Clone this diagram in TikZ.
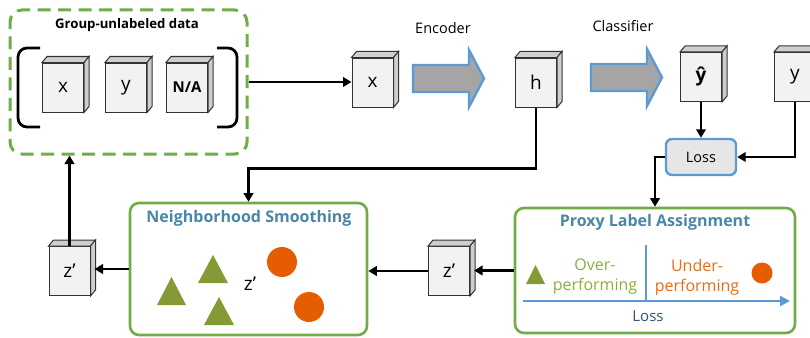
\documentclass[tikz,border=0pt]{standalone}
\usepackage{fontspec}
\setmainfont{Open Sans}
\usetikzlibrary{arrows.meta,calc}
\definecolor{grn}{HTML}{70AD47}
\definecolor{bluel}{HTML}{5B9BD5}
\definecolor{arrfill}{HTML}{A5A5A5}
\definecolor{ttl}{HTML}{4A86A8}
\definecolor{olive}{HTML}{849B35}
\definecolor{orng}{HTML}{E65C00}
\definecolor{overc}{HTML}{8BAE3D}
\definecolor{underc}{HTML}{EB6A12}
\definecolor{lossc}{HTML}{2F5377}
\definecolor{cubef}{HTML}{F2F2F2}
\definecolor{lossf}{HTML}{E7E6E6}
\newcommand\fs[1]{\fontsize{#1}{#1}\selectfont}
\newcommand\mycube[3]{%
  \node[cubebox] (#1) at (#2) {#3};
  \draw[cubeedge] (#1.north west) -- ++(5,-6) -- ([shift={(5,-6)}]#1.north east) -- (#1.north east) -- cycle;
  \draw[cubeedge] (#1.north east) -- ([shift={(5,-6)}]#1.north east) -- ([shift={(5,-6)}]#1.south east) -- (#1.south east) -- cycle;
}
\begin{document}
\begin{tikzpicture}[x=1pt,y=-1pt,
  cubebox/.style={draw=black!80, fill=cubef, minimum width=41pt, minimum height=49pt, inner sep=0pt, line width=1pt, font=\fs{19}},
  cubeedge/.style={draw=black!80, fill=cubef!85!black, line width=1pt},
  arr/.style={line width=2.6pt, -{Triangle[length=8.5pt,width=9.5pt]}},
  gbox/.style={draw=grn, line width=2.6pt, rounded corners=9pt, inner sep=0pt},
  bigarrow/.style={draw=bluel, fill=arrfill, line width=2.4pt, line join=miter},
  ttlfont/.style={font=\bfseries\fs{16}, text=ttl}
]
\useasboundingbox (0,0) rectangle (810,337);

% group-unlabeled data
\node[draw=grn, line width=3pt, dash pattern=on 13pt off 7.5pt, rounded corners=12pt, minimum width=237pt, minimum height=144pt, inner sep=0pt] (dbox) at (128.5,82) {};
\node[font=\bfseries\fs{13.2}] (dttl) at (127,25) {Group-unlabeled data};
\draw[line width=2.8pt, rounded corners=9pt] (40,48) -- (18,48) -- (18,127) -- (40,127);
\draw[line width=2.8pt, rounded corners=9pt] (217,48) -- (237,48) -- (237,127) -- (217,127);
\mycube{dx}{63,87.5}{x}
\mycube{dy}{126,87.5}{y}
\mycube{dna}{187,87.5}{\bfseries\fs{15}N/A}

% encoder
\mycube{xc}{372.5,82.5}{x}
\node[font=\fs{14.5}] (enc) at (443,28) {Encoder};
\draw[bigarrow] (413,65) -- (469,65) -- (469,50) -- (484,78.5) -- (469,107) -- (469,92) -- (413,92) -- cycle;
\mycube{hc}{536,82.5}{h}

% classifier
\node[font=\fs{14.5}] (cls) at (623,26) {Classifier};
\draw[bigarrow] (591,64) -- (647,64) -- (647,49) -- (662,77.5) -- (647,106) -- (647,91) -- (591,91) -- cycle;
\mycube{yhat}{701,77}{\bfseries ŷ}
\mycube{yr}{795,77}{y}

% loss
\node[draw=bluel, fill=lossf, line width=2.4pt, rounded corners=6pt, minimum width=70pt, minimum height=36pt, inner sep=0pt, font=\fs{14.5}] (loss) at (701,157) {Loss};

% neighborhood smoothing
\node[gbox, minimum width=237pt, minimum height=132pt] (nbox) at (248.5,269) {};
\node[ttlfont] (nttl) at (249,218) {Neighborhood Smoothing};
\fill[olive] (157,305) -- (186,305) -- (171.5,277) -- cycle;
\fill[olive] (198,283) -- (228,283) -- (213,255) -- cycle;
\fill[olive] (204,325) -- (234,325) -- (219,297) -- cycle;
\node[font=\fs{19}] (zlab) at (250,284) {z’};
\fill[orng] (282,262) circle (15);
\fill[orng] (309,307) circle (15);

% z' cubes
\mycube{zl}{69.5,271}{z’}
\mycube{zm}{449,271}{z’}

% proxy label assignment
\node[gbox, minimum width=280pt, minimum height=125pt] (pbox) at (655,270.5) {};
\node[ttlfont] (pttl) at (655,222) {Proxy Label Assignment};
\fill[olive] (526,284) -- (545,284) -- (535.5,265) -- cycle;
\fill[orng] (762,273) circle (10.5);
\node[font=\fs{16}, text=overc, align=center] (over) at (595,277) {Over-\\[4pt]performing};
\node[font=\fs{16}, text=underc, align=center] (under) at (697,277) {Under-\\[4pt]performing};
\coordinate (vt) at (646,245);
\coordinate (vb) at (646,301);
\coordinate (ha) at (523,301);
\coordinate (hb) at (790,301);
\draw[draw=bluel, line width=2.8pt] (vt) -- (vb);
\draw[draw=bluel, line width=2.8pt, -{Triangle[length=10pt,width=10pt]}] (ha) -- (hb);
\node[font=\fs{15}, text=lossc] (lossax) at (648,316) {Loss};

% connectors
\draw[arr] (dbox.east) -- (dbox.east -| xc.west);
\draw[arr] (hc.south) |- ($(nbox.north)+(0,-33)$) -- (nbox.north);
\draw[arr] (yhat.south) -- (loss.north);
\draw[arr] (yr.south) |- (loss.east);
\draw[arr] (loss.west) -| (pbox.north);
\draw[arr] (pbox.west) -- ([xshift=4pt]pbox.west -| zm.east);
\draw[arr] (zm.west) -- (zm.west -| nbox.east);
\draw[arr] (nbox.west) -- ([xshift=4pt]nbox.west -| zl.east);
\draw[arr] (zl.north) -- (zl.north |- dbox.south);
\end{tikzpicture}
\end{document}
